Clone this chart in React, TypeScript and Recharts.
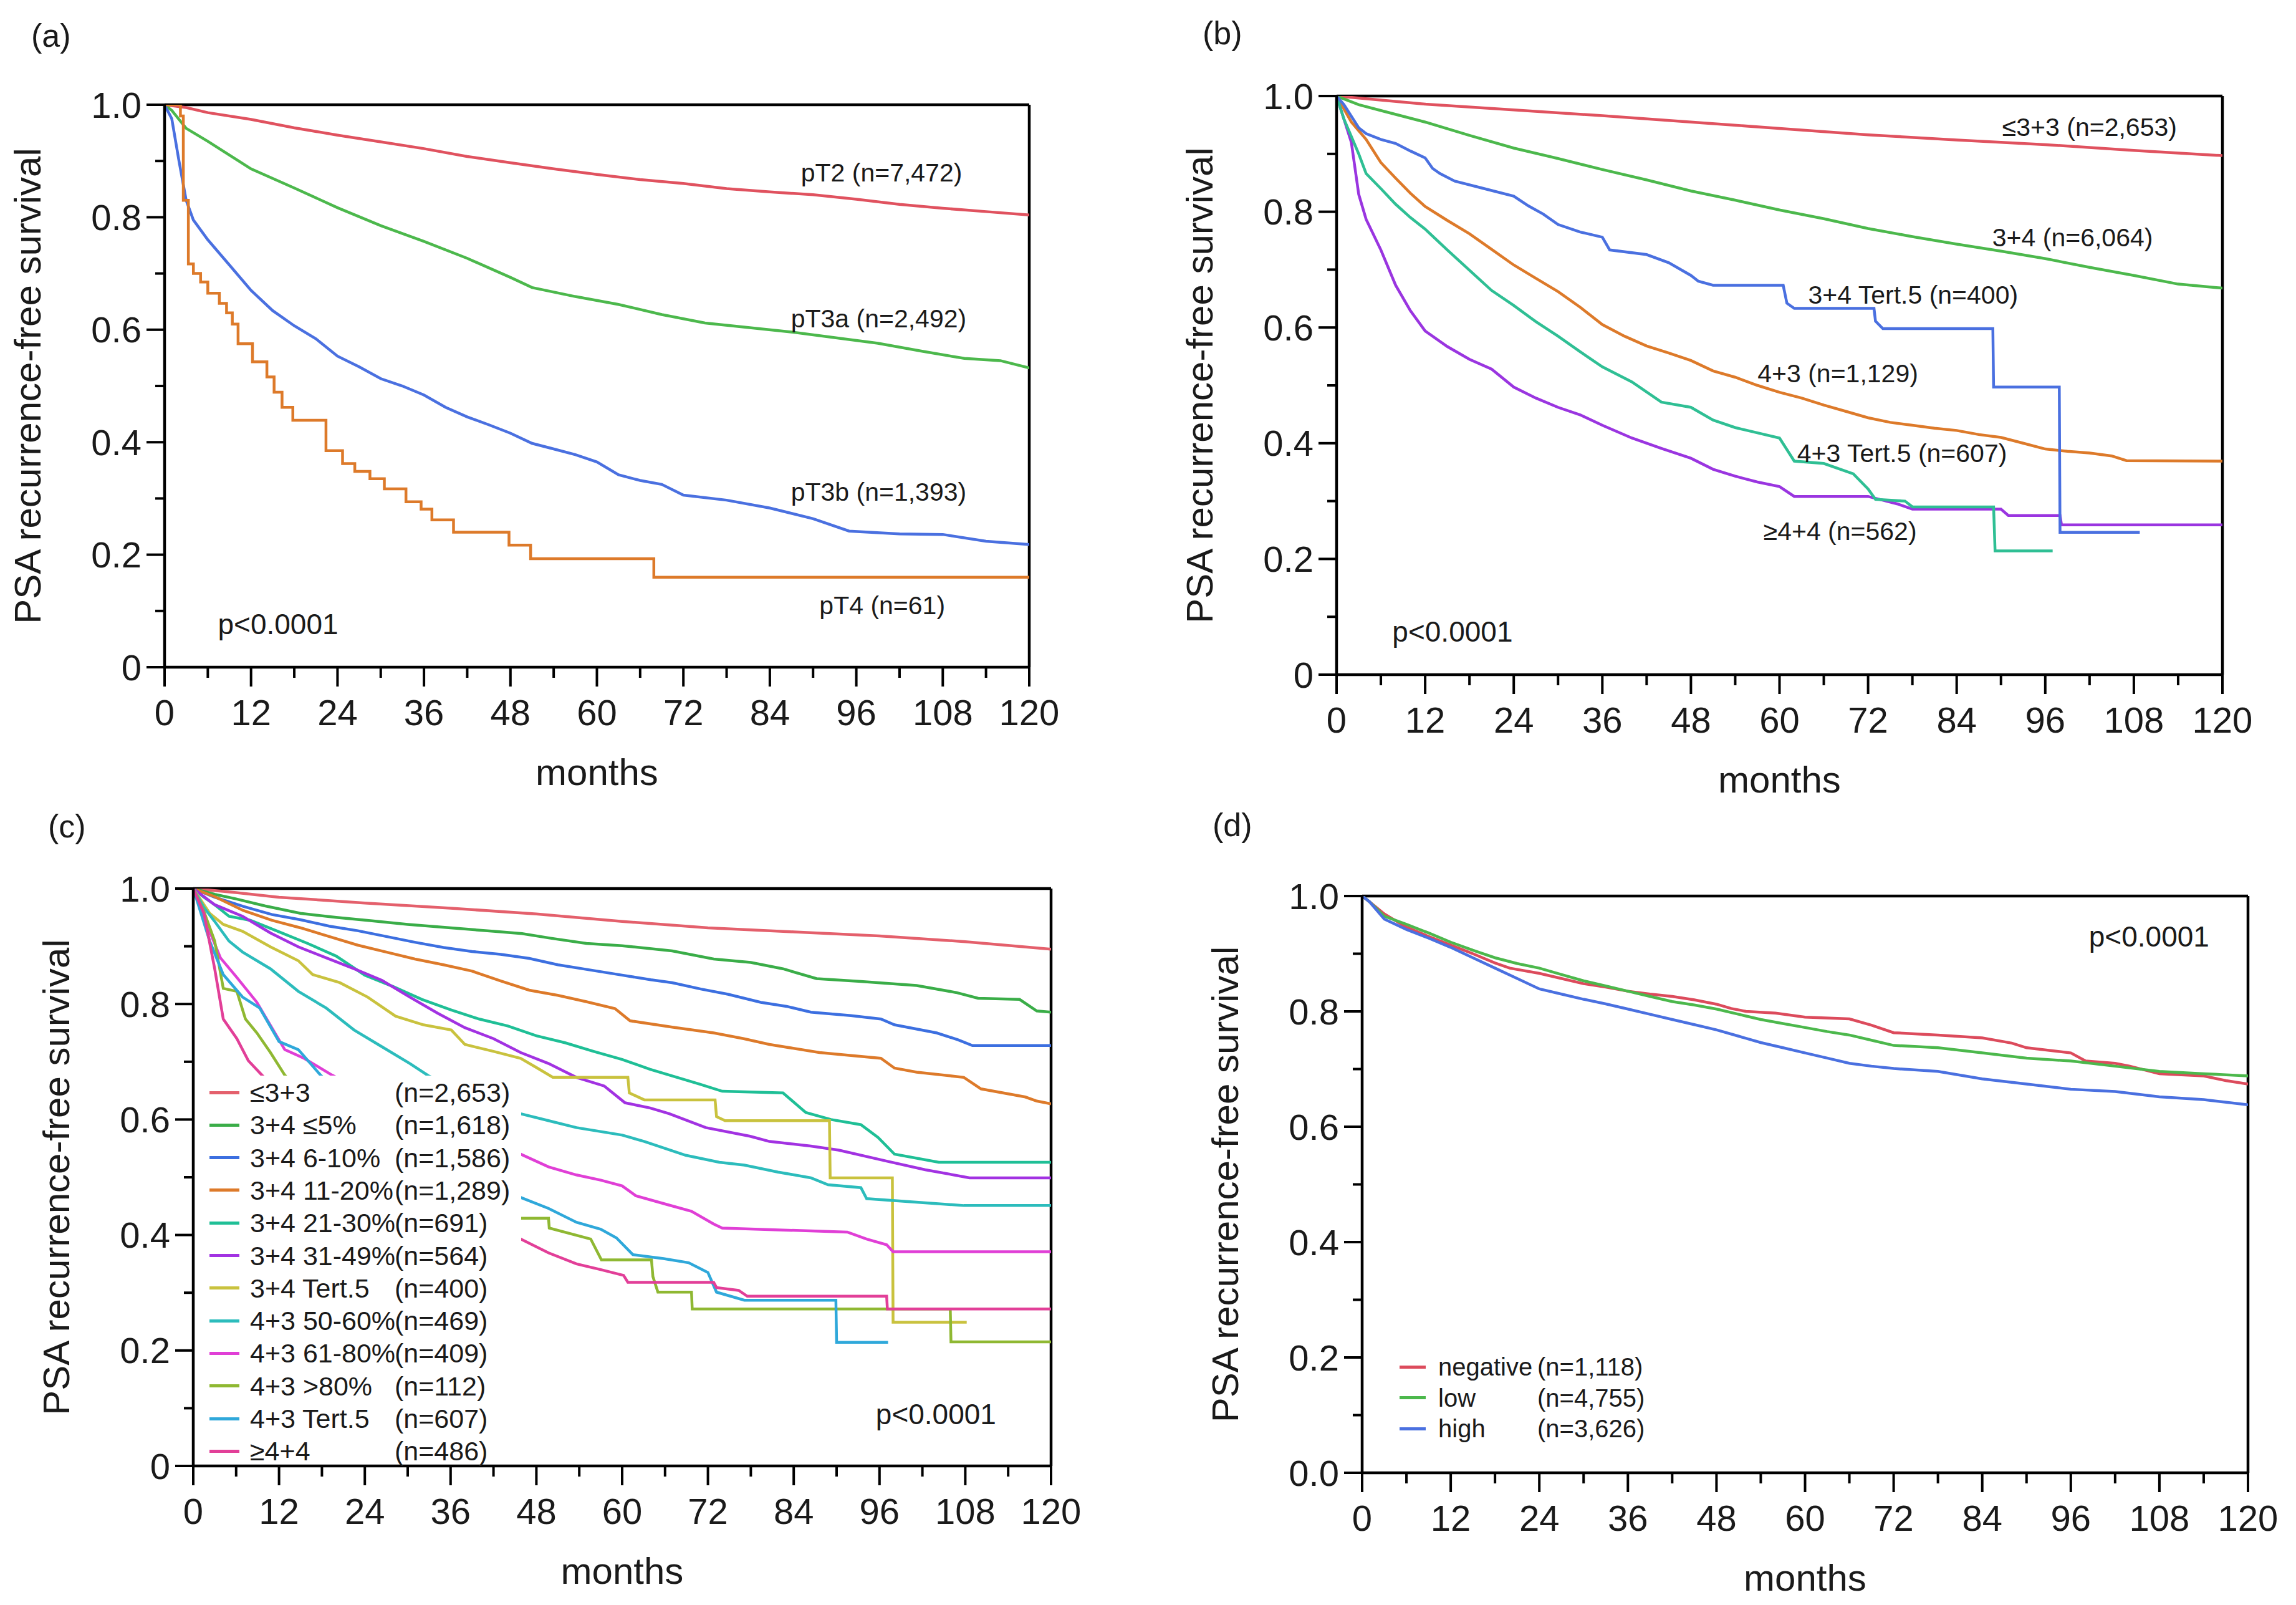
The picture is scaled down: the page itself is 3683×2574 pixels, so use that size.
import React from "react";
import { LineChart, Line, XAxis, YAxis, ReferenceLine, ReferenceDot, Legend } from "recharts";

const FONT = "'Liberation Sans', Arial, Helvetica, sans-serif";
const INK = "#1a1a1a";

type Pt = [number, number];

// axis ticks: months (labels on multiples of 12) and survival (labels on even tenths)
const MONTH_TICKS = [0, 6, 12, 18, 24, 30, 36, 42, 48, 54, 60, 66, 72, 78, 84, 90, 96, 102, 108, 114, 120];
const SURV_TICKS = [0, 0.1, 0.2, 0.3, 0.4, 0.5, 0.6, 0.7, 0.8, 0.9, 1];

// ---- (a) pT stage ----
const pT2: Pt[] = [[0, 1], [3, 0.995], [6, 0.986], [12, 0.974], [18, 0.959], [24, 0.946], [30, 0.934], [36, 0.922], [42, 0.908], [48, 0.897], [54, 0.886], [60, 0.876], [66, 0.867], [72, 0.86], [78, 0.851], [84, 0.845], [90, 0.84], [96, 0.832], [102, 0.823], [108, 0.816], [114, 0.81], [120, 0.804]];
const pT3a: Pt[] = [[0, 1], [1, 0.99], [3, 0.958], [6, 0.935], [12, 0.886], [18, 0.852], [24, 0.817], [30, 0.785], [36, 0.757], [42, 0.727], [48, 0.693], [51, 0.675], [57, 0.659], [63, 0.645], [69, 0.627], [75, 0.612], [81, 0.604], [87, 0.596], [93, 0.586], [99, 0.576], [105, 0.562], [111, 0.549], [116, 0.545], [120, 0.532]];
const pT3b: Pt[] = [[0, 1], [1, 0.975], [2, 0.9], [3, 0.83], [4, 0.795], [6, 0.76], [9, 0.715], [12, 0.67], [15, 0.634], [18, 0.607], [21, 0.584], [24, 0.553], [27, 0.534], [30, 0.513], [33, 0.5], [36, 0.484], [39, 0.462], [42, 0.445], [45, 0.431], [48, 0.416], [51, 0.398], [54, 0.388], [57, 0.378], [60, 0.365], [63, 0.342], [66, 0.332], [69, 0.325], [72, 0.306], [78, 0.297], [84, 0.283], [90, 0.264], [95, 0.242], [102, 0.237], [108, 0.236], [114, 0.224], [120, 0.218]];
const pT4: Pt[] = [[0, 1], [2.2, 0.98], [2.6, 0.83], [3.3, 0.717], [4, 0.7], [5, 0.685], [6, 0.665], [7.6, 0.647], [8.6, 0.63], [9.4, 0.61], [10.2, 0.575], [12.2, 0.543], [14.2, 0.516], [15.2, 0.489], [16.3, 0.462], [17.8, 0.439], [22.4, 0.385], [24.7, 0.362], [26.4, 0.348], [28.5, 0.335], [30.5, 0.317], [33.5, 0.294], [35.6, 0.281], [37.1, 0.262], [40.1, 0.24], [47.8, 0.217], [50.8, 0.193], [67.9, 0.16], [120, 0.16]];

// ---- (b) Gleason grade ----
const b33: Pt[] = [[0, 1], [6, 0.993], [12, 0.986], [24, 0.976], [36, 0.966], [48, 0.955], [60, 0.944], [72, 0.933], [84, 0.924], [96, 0.916], [108, 0.906], [120, 0.897]];
const b34: Pt[] = [[0, 1], [3, 0.985], [6, 0.975], [12, 0.955], [18, 0.932], [24, 0.91], [30, 0.892], [36, 0.873], [42, 0.855], [48, 0.836], [54, 0.82], [60, 0.803], [66, 0.788], [72, 0.771], [78, 0.757], [84, 0.744], [90, 0.732], [96, 0.719], [102, 0.704], [108, 0.69], [114, 0.675], [120, 0.668]];
const b34t5: Pt[] = [[0, 1], [1, 0.985], [2, 0.965], [3, 0.945], [4, 0.935], [6, 0.925], [8, 0.918], [10, 0.905], [12, 0.893], [13, 0.875], [14, 0.866], [16, 0.853], [20, 0.84], [24, 0.827], [26, 0.81], [28, 0.796], [30, 0.778], [33, 0.765], [36, 0.756], [37, 0.734], [42, 0.726], [45, 0.712], [48, 0.69], [49, 0.68], [51, 0.673], [60.5, 0.673], [61, 0.642], [62, 0.633], [72.8, 0.633], [73, 0.611], [74, 0.598], [88.9, 0.598], [89, 0.497], [97.9, 0.497], [98, 0.246], [108.8, 0.246]];
const b43: Pt[] = [[0, 1], [2, 0.955], [4, 0.925], [6, 0.885], [8, 0.858], [10, 0.832], [12, 0.809], [15, 0.785], [18, 0.762], [21, 0.735], [24, 0.708], [27, 0.685], [30, 0.662], [33, 0.635], [36, 0.605], [39, 0.585], [42, 0.568], [45, 0.556], [48, 0.543], [51, 0.525], [54, 0.514], [57, 0.5], [60, 0.488], [63, 0.478], [66, 0.466], [69, 0.455], [72, 0.444], [75, 0.436], [78, 0.431], [81, 0.426], [84, 0.422], [87, 0.415], [90, 0.41], [93, 0.4], [96, 0.39], [99, 0.386], [102, 0.383], [105, 0.378], [107, 0.37], [120, 0.369]];
const b43t5: Pt[] = [[0, 1], [1, 0.96], [2, 0.93], [3, 0.9], [4, 0.866], [6, 0.84], [8, 0.813], [10, 0.79], [12, 0.77], [15, 0.734], [18, 0.699], [21, 0.664], [24, 0.638], [27, 0.61], [30, 0.585], [33, 0.558], [36, 0.532], [40, 0.506], [44, 0.471], [48, 0.462], [51, 0.44], [54, 0.427], [57, 0.418], [60, 0.409], [62, 0.369], [66, 0.365], [70, 0.347], [72, 0.321], [73, 0.303], [77, 0.3], [78, 0.29], [89, 0.29], [89.2, 0.214], [97, 0.214]];
const b44: Pt[] = [[0, 1], [1, 0.96], [2, 0.92], [3, 0.83], [4, 0.787], [6, 0.734], [8, 0.673], [10, 0.629], [12, 0.594], [15, 0.567], [18, 0.545], [21, 0.528], [24, 0.497], [27, 0.478], [30, 0.462], [33, 0.449], [36, 0.431], [40, 0.409], [44, 0.391], [48, 0.374], [51, 0.355], [54, 0.343], [57, 0.333], [60, 0.325], [62, 0.308], [72, 0.308], [76, 0.295], [78, 0.286], [90, 0.286], [91, 0.275], [98, 0.275], [98.2, 0.259], [120, 0.259]];

// ---- (c) quantitative Gleason ----
const c33: Pt[] = [[0, 1], [6, 0.993], [12, 0.985], [24, 0.975], [36, 0.966], [48, 0.956], [60, 0.943], [72, 0.932], [84, 0.925], [96, 0.918], [108, 0.908], [120, 0.895]];
const c34le5: Pt[] = [[0, 1], [3, 0.99], [6, 0.982], [10, 0.97], [15, 0.957], [20, 0.95], [25, 0.944], [30, 0.938], [36, 0.932], [42, 0.926], [46, 0.922], [50, 0.914], [55, 0.905], [60, 0.901], [67, 0.892], [72.8, 0.878], [78, 0.872], [82.5, 0.861], [87.2, 0.844], [93.4, 0.839], [101.2, 0.832], [106.7, 0.82], [109.8, 0.81], [115.6, 0.808], [118, 0.788], [120, 0.786]];
const c34p6: Pt[] = [[0, 1], [3, 0.985], [7, 0.969], [11, 0.955], [15, 0.946], [19, 0.935], [23, 0.927], [27, 0.917], [31, 0.907], [35, 0.898], [39, 0.891], [43, 0.886], [47, 0.879], [51, 0.868], [55, 0.86], [60, 0.85], [64, 0.842], [67, 0.837], [71, 0.826], [74.8, 0.817], [79.4, 0.803], [83, 0.796], [86.4, 0.786], [92, 0.78], [96.2, 0.774], [98.1, 0.764], [104, 0.75], [107, 0.738], [109, 0.728], [120, 0.728]];
const c34p11: Pt[] = [[0, 1], [3, 0.986], [7, 0.962], [11, 0.945], [15, 0.932], [19, 0.917], [23, 0.902], [27, 0.89], [31, 0.878], [35, 0.868], [39, 0.857], [43, 0.84], [47, 0.824], [51, 0.815], [55, 0.804], [59, 0.792], [61.1, 0.771], [67, 0.76], [72.8, 0.75], [77, 0.74], [80.6, 0.73], [87.6, 0.716], [96.2, 0.706], [98.1, 0.689], [101.2, 0.682], [107.8, 0.673], [110.2, 0.653], [116.4, 0.639], [118, 0.632], [120, 0.627]];
const c34p21: Pt[] = [[0, 1], [1.5, 0.985], [3, 0.972], [5, 0.952], [8, 0.945], [12, 0.925], [16, 0.905], [20, 0.883], [24, 0.85], [28, 0.83], [32, 0.808], [36, 0.79], [40, 0.774], [44, 0.762], [48, 0.745], [52, 0.733], [56, 0.718], [60, 0.704], [63.9, 0.687], [70.9, 0.661], [74, 0.649], [82.5, 0.646], [85.7, 0.612], [89.2, 0.6], [93.4, 0.591], [95.8, 0.569], [98.1, 0.54], [104.3, 0.526], [120, 0.526]];
const c34p31: Pt[] = [[0, 1], [3, 0.972], [6.9, 0.952], [10.8, 0.923], [14.7, 0.899], [18.6, 0.88], [22.5, 0.861], [26.4, 0.841], [30.3, 0.812], [34.2, 0.784], [38, 0.759], [42, 0.74], [45.8, 0.716], [49.7, 0.697], [53.6, 0.673], [57.5, 0.658], [60.4, 0.629], [63.9, 0.62], [66.6, 0.61], [71.7, 0.586], [77.9, 0.571], [80.6, 0.562], [86.4, 0.554], [90.3, 0.547], [97, 0.528], [102.4, 0.513], [108.6, 0.499], [120, 0.499]];
const c34t5: Pt[] = [[0, 1], [2.3, 0.957], [4.2, 0.938], [6.9, 0.926], [10.8, 0.899], [14.7, 0.875], [16.7, 0.851], [20.5, 0.837], [24.4, 0.812], [28.3, 0.779], [32.2, 0.764], [36.1, 0.755], [38, 0.73], [42, 0.718], [45.8, 0.706], [48, 0.69], [50.3, 0.673], [60.8, 0.673], [61, 0.646], [63.1, 0.634], [73, 0.634], [73.2, 0.605], [74.4, 0.598], [89, 0.598], [89.1, 0.499], [97.8, 0.499], [97.9, 0.249], [108.2, 0.249]];
const c43p50: Pt[] = [[0, 1], [1.5, 0.967], [3, 0.943], [5, 0.909], [6.9, 0.89], [10.8, 0.861], [14.7, 0.822], [18.6, 0.793], [22.5, 0.755], [26.4, 0.726], [30.3, 0.697], [33, 0.675], [36, 0.66], [40, 0.64], [45.8, 0.61], [49.7, 0.598], [53.6, 0.586], [60, 0.573], [63.1, 0.562], [68.9, 0.538], [73.6, 0.526], [77.1, 0.521], [81.8, 0.509], [86.4, 0.499], [88.8, 0.487], [93.4, 0.482], [94.2, 0.463], [107.8, 0.451], [120, 0.451]];
const c43p61: Pt[] = [[0, 1], [1.5, 0.95], [3.8, 0.88], [6.1, 0.846], [8.9, 0.803], [12.8, 0.721], [15.5, 0.706], [19.4, 0.677], [25, 0.64], [35, 0.58], [45.8, 0.54], [49.7, 0.518], [53.6, 0.504], [57, 0.495], [60, 0.485], [61.9, 0.468], [66.2, 0.453], [69.7, 0.441], [72.8, 0.419], [74, 0.412], [91.5, 0.405], [94.2, 0.393], [97, 0.383], [97.9, 0.371], [120, 0.371]];
const c43p80: Pt[] = [[0, 1], [1.5, 0.96], [3, 0.909], [4.2, 0.827], [6.1, 0.822], [7.3, 0.774], [8.9, 0.75], [10.8, 0.716], [12.8, 0.677], [20, 0.58], [35, 0.47], [45.8, 0.429], [49.7, 0.429], [49.8, 0.412], [55.6, 0.393], [57.1, 0.357], [64.1, 0.357], [64.3, 0.328], [65, 0.301], [69.7, 0.301], [69.8, 0.272], [105.9, 0.272], [106, 0.215], [120, 0.215]];
const c43t5: Pt[] = [[0, 1], [2.3, 0.909], [4.2, 0.851], [6.9, 0.812], [9.3, 0.793], [12, 0.735], [14.7, 0.721], [17.8, 0.677], [25, 0.6], [35, 0.52], [45.8, 0.465], [49.7, 0.446], [53.6, 0.422], [57, 0.41], [59.2, 0.395], [61.5, 0.366], [65.8, 0.359], [69.3, 0.352], [72, 0.335], [73.2, 0.301], [77.1, 0.287], [89.9, 0.287], [90, 0.214], [97.2, 0.214]];
const c44: Pt[] = [[0, 1], [1.5, 0.957], [3, 0.861], [4.2, 0.774], [6.1, 0.74], [7.7, 0.702], [9.6, 0.677], [20, 0.55], [35, 0.45], [45.8, 0.393], [49.7, 0.369], [53.6, 0.35], [57, 0.34], [60.2, 0.33], [60.8, 0.318], [72.8, 0.318], [73.2, 0.309], [76.3, 0.304], [77.5, 0.294], [97, 0.294], [97.1, 0.272], [120, 0.272]];

const C_NAMES = ["≤3+3", "3+4 ≤5%", "3+4 6-10%", "3+4 11-20%", "3+4 21-30%", "3+4 31-49%", "3+4 Tert.5", "4+3 50-60%", "4+3 61-80%", "4+3 >80%", "4+3 Tert.5", "≥4+4"];
const C_COUNTS = ["(n=2,653)", "(n=1,618)", "(n=1,586)", "(n=1,289)", "(n=691)", "(n=564)", "(n=400)", "(n=469)", "(n=409)", "(n=112)", "(n=607)", "(n=486)"];
const C_COLORS = ["#e4606c", "#3aad48", "#3c6fe0", "#dd7a2a", "#1fbf96", "#a232e2", "#c9c23e", "#2cbcbc", "#e03fd6", "#8fb832", "#2fa8da", "#e23f98"];

// ---- (d) marker status ----
const dNeg: Pt[] = [[0, 1], [1, 0.99], [3, 0.969], [6, 0.946], [9, 0.93], [12, 0.915], [15, 0.9], [18, 0.884], [20, 0.875], [24, 0.866], [27, 0.857], [30, 0.848], [33, 0.842], [36, 0.835], [39, 0.83], [42, 0.826], [45, 0.82], [48, 0.8125], [50, 0.805], [52, 0.8], [56, 0.797], [60, 0.79], [66, 0.787], [69, 0.776], [72, 0.763], [78, 0.759], [84, 0.754], [88, 0.745], [90, 0.737], [96, 0.728], [98, 0.714], [102, 0.71], [104, 0.705], [108, 0.692], [114, 0.688], [117, 0.68], [120, 0.674]];
const dLow: Pt[] = [[0, 1], [1, 0.99], [3, 0.965], [6, 0.951], [9, 0.936], [12, 0.92], [15, 0.906], [18, 0.893], [21, 0.883], [24, 0.875], [27, 0.864], [30, 0.853], [33, 0.844], [36, 0.835], [39, 0.826], [42, 0.817], [45, 0.811], [48, 0.804], [51, 0.795], [54, 0.786], [57, 0.779], [60, 0.772], [63, 0.765], [66, 0.759], [69, 0.75], [72, 0.741], [78, 0.737], [84, 0.728], [90, 0.719], [96, 0.714], [102, 0.705], [108, 0.696], [114, 0.692], [120, 0.688]];
const dHigh: Pt[] = [[0, 1], [1, 0.99], [3, 0.96], [6, 0.942], [9, 0.927], [12, 0.911], [15, 0.893], [18, 0.875], [21, 0.857], [24, 0.839], [27, 0.83], [30, 0.821], [33, 0.813], [36, 0.804], [39, 0.795], [42, 0.786], [45, 0.777], [48, 0.768], [51, 0.757], [54, 0.746], [57, 0.737], [60, 0.728], [63, 0.719], [66, 0.71], [69, 0.705], [72, 0.701], [78, 0.696], [84, 0.683], [90, 0.674], [96, 0.665], [102, 0.661], [108, 0.652], [114, 0.647], [120, 0.638]];

const D_NAMES = ["negative", "low", "high"];
const D_COUNTS = ["(n=1,118)", "(n=4,755)", "(n=3,626)"];
const D_COLORS = ["#dc4b5c", "#4cb84c", "#4a70e0"];

type Series = { key: string; color: string; pts: Pt[]; step?: boolean };
type Note = { x: number; y: number; text: string; size?: number };

const RED = "#e0525f";
const GREEN = "#4cb84c";
const BLUE = "#4a70e0";
const ORANGE = "#dd7a2a";

const A_SERIES: Series[] = [
  { key: "pT2", color: RED, pts: pT2 },
  { key: "pT3a", color: GREEN, pts: pT3a },
  { key: "pT3b", color: BLUE, pts: pT3b },
  { key: "pT4", color: ORANGE, pts: pT4, step: true },
];
const B_SERIES: Series[] = [
  { key: "b33", color: RED, pts: b33 },
  { key: "b34", color: GREEN, pts: b34 },
  { key: "b43", color: ORANGE, pts: b43 },
  { key: "b44", color: "#9a35e0", pts: b44 },
  { key: "b43t5", color: "#2fbf94", pts: b43t5 },
  { key: "b34t5", color: BLUE, pts: b34t5 },
];
const C_DATA = [c33, c34le5, c34p6, c34p11, c34p21, c34p31, c34t5, c43p50, c43p61, c43p80, c43t5, c44];
const C_SERIES: Series[] = C_DATA.map((pts, i) => ({ key: C_NAMES[i], color: C_COLORS[i], pts }));
const D_SERIES: Series[] = [dNeg, dLow, dHigh].map((pts, i) => ({ key: D_NAMES[i], color: D_COLORS[i], pts }));

const A_NOTES: Note[] = [
  { x: 99.5, y: 0.88, text: "pT2 (n=7,472)" },
  { x: 99.1, y: 0.62, text: "pT3a (n=2,492)" },
  { x: 99.1, y: 0.312, text: "pT3b (n=1,393)" },
  { x: 99.6, y: 0.11, text: "pT4 (n=61)" },
  { x: 15.75, y: 0.077, text: "p<0.0001", size: 46 },
];
const B_NOTES: Note[] = [
  { x: 102, y: 0.947, text: "≤3+3 (n=2,653)" },
  { x: 99.7, y: 0.756, text: "3+4 (n=6,064)" },
  { x: 78.1, y: 0.657, text: "3+4 Tert.5 (n=400)" },
  { x: 67.9, y: 0.521, text: "4+3 (n=1,129)" },
  { x: 76.6, y: 0.383, text: "4+3 Tert.5 (n=607)" },
  { x: 68.2, y: 0.248, text: "≥4+4 (n=562)" },
  { x: 15.7, y: 0.075, text: "p<0.0001", size: 46 },
];
const C_NOTES: Note[] = [{ x: 103.9, y: 0.09, text: "p<0.0001", size: 46 }];
const D_NOTES: Note[] = [{ x: 106.6, y: 0.93, text: "p<0.0001", size: 46 }];

const X_H = 200;
const AXIS = 4.5;

const XTick = (props: any) => {
  const { x, y, payload } = props;
  const v = payload.value;
  const major = v % 12 === 0;
  return (
    <g>
      <line x1={x} y1={y} x2={x} y2={y + (major ? 31 : 17)} stroke="#000" strokeWidth={4} />
      {major && (
        <text x={x} y={y + 72} textAnchor="middle" dominantBaseline="central" fontSize={58} fontFamily={FONT} fill={INK}>
          {v}
        </text>
      )}
    </g>
  );
};

const YTick = (props: any) => {
  const { x, y, payload, zero } = props;
  const v = payload.value;
  const major = Math.round(v * 10) % 2 === 0;
  return (
    <g>
      <line x1={x - (major ? 29 : 15)} y1={y} x2={x} y2={y} stroke="#000" strokeWidth={4} />
      {major && (
        <text x={x - 37} y={y} textAnchor="end" dominantBaseline="central" fontSize={58} fontFamily={FONT} fill={INK}>
          {v === 0 ? zero : v.toFixed(1)}
        </text>
      )}
    </g>
  );
};

type Box = { left: number; top: number; width: number; height: number };
type Plot = { l: number; t: number; r: number; b: number };

function LegendRows(props: {
  names: string[]; counts: string[]; colors: string[];
  y0: number; step: number; sx: number; sw: number; tx: number; nx: number; size: number;
}) {
  const { names, counts, colors, y0, step, sx, sw, tx, nx, size } = props;
  return (
    <div style={{ position: "relative", width: "100%", height: "100%", fontFamily: FONT, fontSize: size, color: INK }}>
      {names.map((name, i) => {
        const cy = y0 + i * step;
        return (
          <React.Fragment key={name}>
            <div style={{ position: "absolute", left: sx, top: cy - 2.5, width: sw, height: 5, background: colors[i] }} />
            <div style={{ position: "absolute", left: tx, top: cy - 30, height: 60, lineHeight: "60px", whiteSpace: "nowrap" }}>{name}</div>
            <div style={{ position: "absolute", left: nx, top: cy - 30, height: 60, lineHeight: "60px", whiteSpace: "nowrap" }}>{counts[i]}</div>
          </React.Fragment>
        );
      })}
    </div>
  );
}

function Panel(props: {
  box: Box; plot: Plot; series: Series[]; zero: string; notes: Note[];
  legend?: React.ReactNode; legendStyle?: React.CSSProperties;
}) {
  const { box, plot, series, zero, notes, legend, legendStyle } = props;
  const yW = plot.l - box.left;
  const margin = {
    top: plot.t - box.top,
    right: box.left + box.width - plot.r,
    bottom: box.top + box.height - plot.b - X_H,
    left: 0,
  };
  return (
    <div style={{ position: "absolute", left: box.left, top: box.top }}>
      <LineChart width={box.width} height={box.height} margin={margin}>
        <XAxis
          type="number"
          dataKey="t"
          domain={[0, 120]}
          ticks={MONTH_TICKS}
          interval={0}
          tickSize={0}
          tickMargin={0}
          tickLine={false}
          tick={XTick}
          height={X_H}
          allowDataOverflow
          axisLine={{ stroke: "#000", strokeWidth: AXIS }}
          label={{ value: "months", position: "insideBottom", offset: 11, fontSize: 60, fontFamily: FONT, fill: INK }}
        />
        <YAxis
          type="number"
          domain={[0, 1]}
          ticks={SURV_TICKS}
          interval={0}
          tickSize={0}
          tickMargin={0}
          tickLine={false}
          tick={(p: any) => <YTick {...p} zero={zero} />}
          width={yW}
          allowDataOverflow
          axisLine={{ stroke: "#000", strokeWidth: AXIS }}
          label={{
            value: "PSA recurrence-free survival",
            angle: -90,
            position: "insideLeft",
            offset: yW - 220,
            fontSize: 60,
            fontFamily: FONT,
            fill: INK,
            style: { textAnchor: "middle" },
          }}
        />
        <ReferenceLine y={1} stroke="#000" strokeWidth={AXIS} />
        <ReferenceLine x={120} stroke="#000" strokeWidth={AXIS} />
        {series.map((s) => (
          <Line
            key={s.key}
            data={s.pts.map(([t, v]) => ({ t, s: v }))}
            dataKey="s"
            type={s.step ? "stepAfter" : "linear"}
            stroke={s.color}
            strokeWidth={4.5}
            dot={false}
            activeDot={false}
            isAnimationActive={false}
          />
        ))}
        {notes.map((n) => (
          <ReferenceDot
            key={n.text + n.x}
            x={n.x}
            y={n.y}
            r={0}
            fill="none"
            stroke="none"
            label={{ value: n.text, position: "center", fontSize: n.size ?? 41, fontFamily: FONT, fill: INK }}
          />
        ))}
        {legend && (
          <Legend
            layout="horizontal"
            verticalAlign="middle"
            align="center"
            wrapperStyle={legendStyle}
            content={() => legend}
          />
        )}
      </LineChart>
    </div>
  );
}

const letterStyle = (left: number, top: number): React.CSSProperties => ({
  position: "absolute", left, top, fontFamily: FONT, fontSize: 52, lineHeight: "52px", color: INK,
});

export default function App() {
  return (
    <div style={{ position: "absolute", left: 0, top: 0, width: 3683, height: 2574, background: "#fff", overflow: "hidden" }}>
      <Panel
        box={{ left: 0, top: 0, width: 1800, height: 1290 }}
        plot={{ l: 264, t: 168, r: 1651, b: 1070 }}
        series={A_SERIES}
        zero="0"
        notes={A_NOTES}
      />
      <Panel
        box={{ left: 1840, top: 0, width: 1843, height: 1290 }}
        plot={{ l: 2144, t: 154, r: 3565, b: 1082 }}
        series={B_SERIES}
        zero="0"
        notes={B_NOTES}
      />
      <Panel
        box={{ left: 0, top: 1290, width: 1800, height: 1284 }}
        plot={{ l: 310, t: 1425, r: 1686, b: 2351 }}
        series={C_SERIES}
        zero="0"
        notes={C_NOTES}
        legendStyle={{ left: 313, top: 435, width: 523, height: 623, background: "#fff" }}
        legend={<LegendRows names={C_NAMES} counts={C_COUNTS} colors={C_COLORS} y0={27} step={52.3} sx={23} sw={48} tx={88} nx={320} size={43} />}
      />
      <Panel
        box={{ left: 1840, top: 1290, width: 1843, height: 1284 }}
        plot={{ l: 2185, t: 1437, r: 3606, b: 2362 }}
        series={D_SERIES}
        zero="0.0"
        notes={D_NOTES}
        legendStyle={{ left: 390, top: 870, width: 520, height: 165 }}
        legend={<LegendRows names={D_NAMES} counts={D_COUNTS} colors={D_COLORS} y0={32} step={49.5} sx={15} sw={42} tx={77} nx={236} size={40} />}
      />
      <div style={letterStyle(50, 31)}>(a)</div>
      <div style={letterStyle(1929, 27)}>(b)</div>
      <div style={letterStyle(77, 1299)}>(c)</div>
      <div style={letterStyle(1945, 1297)}>(d)</div>
    </div>
  );
}
